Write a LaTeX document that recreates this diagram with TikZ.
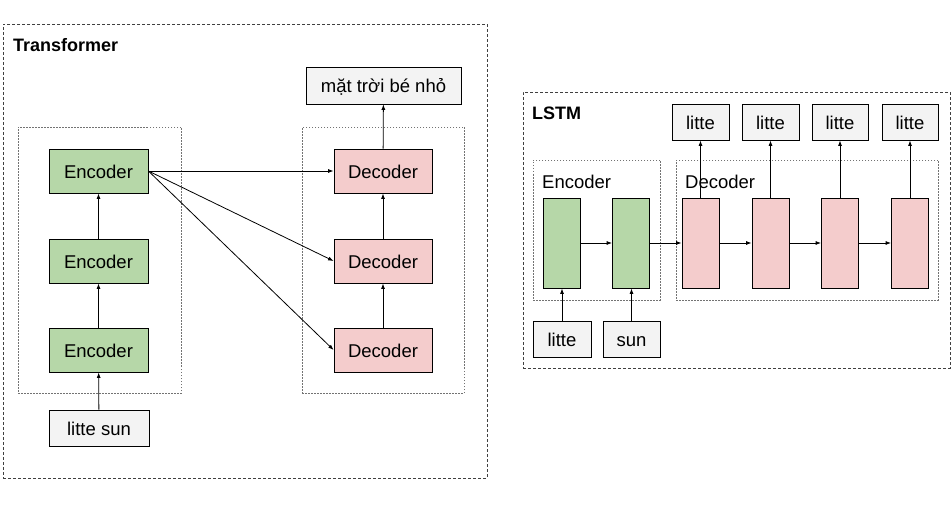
\documentclass[tikz,border=0pt]{standalone}
\usepackage{fontspec}
\setmainfont{Liberation Sans}
\usetikzlibrary{arrows.meta}
\definecolor{encg}{HTML}{B6D7A8}
\definecolor{decp}{HTML}{F4CCCC}
\definecolor{iog}{HTML}{F3F3F3}
\tikzset{
  box/.style={draw=black, line width=0.8pt, inner sep=0pt, text height=15.5pt, text depth=0.5pt, font=\fontsize{18.5}{20}\selectfont},
  encbox/.style={box, fill=encg},
  decbox/.style={box, fill=decp},
  iobox/.style={box, fill=iog},
  outer/.style={draw=black!75, line width=0.7pt, inner sep=0pt, dash pattern=on 3pt off 2pt},
  group/.style={draw=black!55, line width=0.6pt, inner sep=0pt, dash pattern=on 1.5pt off 1.5pt},
  title/.style={anchor=west, inner sep=0pt, font=\fontsize{18}{20}\selectfont\bfseries},
  lbl/.style={anchor=west, inner sep=0pt, font=\fontsize{18.5}{20}\selectfont},
  arr/.style={-{Latex[length=5.5pt,width=4pt]}, line width=0.8pt}
}
\begin{document}
\begin{tikzpicture}[x=1pt,y=-1pt]
\useasboundingbox[fill=white] (0,0) rectangle (951,505);
% Transformer
\node[outer, minimum width=484pt, minimum height=454pt] (tout) at (245,251) {};
\node[title] (ttitle) at (13,45) {Transformer};
\node[group, minimum width=163pt, minimum height=266pt] (tenc) at (99.5,260) {};
\node[group, minimum width=162pt, minimum height=266pt] (tdec) at (383,260) {};
\node[encbox, minimum width=99pt, minimum height=44pt] (e1) at (98.5,171) {Encoder};
\node[encbox, minimum width=99pt, minimum height=44pt] (e2) at (98.5,261) {Encoder};
\node[encbox, minimum width=99pt, minimum height=44pt] (e3) at (98.5,350) {Encoder};
\node[decbox, minimum width=98pt, minimum height=44pt] (d1) at (383,171) {Decoder};
\node[decbox, minimum width=98pt, minimum height=44pt] (d2) at (383,261) {Decoder};
\node[decbox, minimum width=98pt, minimum height=44pt] (d3) at (383,350) {Decoder};
\node[iobox, minimum width=155pt, minimum height=37pt] (tout2) at (383.5,85.5) {mặt trời bé nhỏ};
\node[iobox, minimum width=100pt, minimum height=36pt] (tin) at (99,428) {litte sun};
\draw[arr] (tin) -- (e3);
\draw[arr] (e3) -- (e2);
\draw[arr] (e2) -- (e1);
\draw[arr] (d3) -- (d2);
\draw[arr] (d2) -- (d1);
\draw[arr] (d1) -- (tout2);
\draw[arr] (e1.east) -- (d1.west);
\draw[arr] (e1.east) -- (d2.west);
\draw[arr] (e1.east) -- (d3.west);
% LSTM
\node[outer, minimum width=427pt, minimum height=276pt] (lout) at (736.5,230) {};
\node[title] (ltitle) at (532,113) {LSTM};
\node[group, minimum width=127pt, minimum height=140pt] (lenc) at (596.5,230) {};
\node[group, minimum width=262pt, minimum height=140pt] (ldec) at (807,230) {};
\node[lbl] (lenclbl) at (542,182) {Encoder};
\node[lbl] (ldeclbl) at (685,182) {Decoder};
\node[encbox, minimum width=37pt, minimum height=90pt] (g1) at (561.5,243) {};
\node[encbox, minimum width=37pt, minimum height=90pt] (g2) at (631,243) {};
\node[decbox, minimum width=37pt, minimum height=90pt] (p1) at (700.5,243) {};
\node[decbox, minimum width=37pt, minimum height=90pt] (p2) at (770.5,243) {};
\node[decbox, minimum width=37pt, minimum height=90pt] (p3) at (840,243) {};
\node[decbox, minimum width=37pt, minimum height=90pt] (p4) at (910,243) {};
\node[iobox, minimum width=57pt, minimum height=36pt] (t1) at (700.5,122) {litte};
\node[iobox, minimum width=57pt, minimum height=36pt] (t2) at (770.5,122) {litte};
\node[iobox, minimum width=56pt, minimum height=36pt] (t3) at (840,122) {litte};
\node[iobox, minimum width=56pt, minimum height=36pt] (t4) at (910,122) {litte};
\node[iobox, minimum width=58pt, minimum height=36pt] (b1) at (562,339) {litte};
\node[iobox, minimum width=57pt, minimum height=36pt] (b2) at (631.5,339) {sun};
\draw[arr] (b1) -- (b1 |- g1.south);
\draw[arr] (b2) -- (b2 |- g2.south);
\draw[arr] (g1) -- (g2);
\draw[arr] (g2) -- (p1);
\draw[arr] (p1) -- (p2);
\draw[arr] (p2) -- (p3);
\draw[arr] (p3) -- (p4);
\draw[arr] (p1) -- (t1);
\draw[arr] (p2) -- (t2);
\draw[arr] (p3) -- (t3);
\draw[arr] (p4) -- (t4);
\end{tikzpicture}
\end{document}
